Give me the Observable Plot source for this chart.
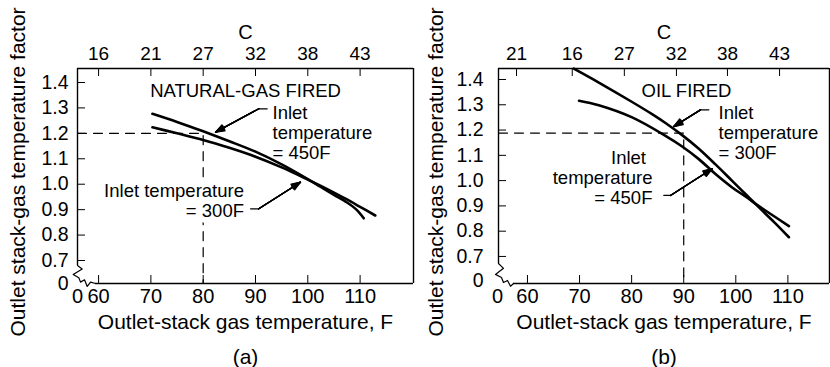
<!DOCTYPE html>
<html><head><meta charset="utf-8">
<script src="https://cdn.jsdelivr.net/npm/d3@7"></script>
<script src="https://cdn.jsdelivr.net/npm/@observablehq/plot@0.6"></script>
<style>
html,body{margin:0;padding:0;background:#fff;}
#wrap{display:flex;width:830px;height:367px;overflow:hidden;}
#wrap svg{display:block;}
</style></head><body><div id="wrap"></div>
<script>
// ---------- data ----------
const fTicks = [60, 70, 80, 90, 100, 110];
const yTicks = [0.7, 0.8, 0.9, 1.0, 1.1, 1.2, 1.3, 1.4];
const cLabelsA = ["16", "21", "27", "32", "38", "43"];
const cPosA = [60, 70, 80, 90, 100, 110];
const cLabelsB = ["21", "16", "27", "32", "38", "43"];
const cPosB = [57.9, 68.6, 78.6, 88.6, 98.4, 108.4];

// (a) natural-gas fired
const gasF450 = [70.3, 75, 80, 85, 90, 95, 100, 102.4, 105, 107.5, 109.3, 110.7];
const gas450  = [1.277, 1.245, 1.208, 1.169, 1.128, 1.078, 1.02, 0.99, 0.958, 0.928, 0.9, 0.866];
const gasF300 = [70.3, 75, 80, 85, 90, 95, 100, 102.4, 105, 107.5, 110, 112.9];
const gas300  = [1.224, 1.2, 1.174, 1.143, 1.108, 1.066, 1.018, 0.994, 0.967, 0.94, 0.911, 0.877];
const gasRef = {F: 80, factor: 1.2};

// (b) oil fired
const oilF300 = [68.9, 73.7, 80.1, 84, 86.5, 89.7, 92.9, 96.1, 99.3, 101.9, 104.5, 107.5, 110.2];
const oil300  = [1.443, 1.388, 1.311, 1.262, 1.228, 1.18, 1.126, 1.064, 0.999, 0.946, 0.893, 0.833, 0.776];
const oilF450 = [69.9, 73.7, 80.1, 86.5, 89.7, 92.9, 96.1, 99.3, 102, 104.5, 107.5, 110.2];
const oil450  = [1.316, 1.298, 1.25, 1.177, 1.135, 1.085, 1.026, 0.973, 0.935, 0.898, 0.857, 0.82];
const oilRef = {F: 90, factor: 1.188};

// axis-break zigzags (data units)
const breakAF = [55.97, 56.87, 55.15, 56.22, 56.55, 57.31, 57.83, 58.46, 59.42];
const breakAY = [0.680, 0.667, 0.645, 0.632, 0.615, 0.624, 0.598, 0.615, 0.6096];
const breakBF = [54.44, 55.40, 53.86, 55.01, 55.40, 56.17, 56.75, 57.32];
const breakBY = [0.672, 0.653, 0.629, 0.617, 0.597, 0.605, 0.582, 0.593];

const FONT = "'Liberation Sans', Arial, Helvetica, sans-serif";

function zip(xs, ys, extra = {}) { return xs.map((x, i) => ({F: x, v: ys[i], ...extra})); }

function arrowMarks(pts) {
  const [a, b, c] = pts;
  const marks = [Plot.line([a, b], {x: d => d[0], y: d => d[1], stroke: "black", strokeWidth: 1.3})];
  for (const ang of [8, 16, 24, 32, 40]) {
    marks.push(Plot.arrow([{x1: b[0], y1: b[1], x2: c[0], y2: c[1]}],
      {x1: "x1", y1: "y1", x2: "x2", y2: "y2", stroke: "black", strokeWidth: 1.3, headLength: 11, headAngle: ang}));
  }
  return marks;
}

function panel(cfg) {
  const [x0, x1] = cfg.xDomain, [y0, y1] = cfg.yDomain;
  const fw = cfg.width - cfg.ml - cfg.mr, fh = cfg.height - cfg.mt - cfg.mb;
  const brk = cfg.breakF.map((f, i) => [f, cfg.breakY[i]]);
  const noteOpts = {x: "x", y: "y", text: "t", lineAnchor: "middle", lineHeight: 1.08, fontSize: 18.5};
  const T = {fill: "black", lineAnchor: "middle"};
  return Plot.plot({
    width: cfg.width, height: cfg.height,
    marginLeft: cfg.ml, marginRight: cfg.mr, marginTop: cfg.mt, marginBottom: cfg.mb,
    x: {domain: cfg.xDomain, axis: null},
    y: {domain: cfg.yDomain, axis: null},
    style: {fontFamily: FONT, background: "white", color: "black", overflow: "visible"},
    marks: [
      // frame pieces
      Plot.ruleY([y1], {stroke: "black", strokeWidth: 1.4}),
      Plot.ruleX([x1], {stroke: "black", strokeWidth: 1.4}),
      Plot.ruleX([x0], {y1: brk[0][1], y2: y1, stroke: "black", strokeWidth: 1.4}),
      Plot.ruleY([y0], {x1: brk[brk.length - 1][0], x2: x1, stroke: "black", strokeWidth: 1.4}),
      Plot.line(brk, {x: d => d[0], y: d => d[1], stroke: "black", strokeWidth: 1.2}),
      // ticks (inward)
      Plot.tickX(fTicks, {insetTop: fh - 8, stroke: "black", strokeWidth: 1}),
      Plot.tickX(cfg.cPos, {insetBottom: fh - 8, stroke: "black", strokeWidth: 1}),
      Plot.tickY(yTicks, {insetRight: fw - 8, stroke: "black", strokeWidth: 1}),
      // tick labels
      Plot.text(fTicks, {x: d => d, frameAnchor: "bottom", dy: 13, textAnchor: "middle", text: d => String(d), fontSize: 20, ...T}),
      Plot.text(["0"], {frameAnchor: "bottom-left", dx: cfg.x0dx, dy: 13, textAnchor: "middle", fontSize: 20, ...T}),
      Plot.text(cfg.cPos, {x: d => d, frameAnchor: "top", dy: -15, textAnchor: "middle", text: (d, i) => cfg.cLabels[i], fontSize: 19, ...T}),
      Plot.text(yTicks, {y: d => d, frameAnchor: "left", dx: cfg.ydx, textAnchor: "end", text: d => d.toFixed(1), fontSize: 19.5, ...T}),
      Plot.text(["0"], {frameAnchor: "bottom-left", dx: cfg.ydx, dy: cfg.y0dy, textAnchor: "end", fontSize: 19.5, ...T}),
      // axis titles
      Plot.text(["C"], {frameAnchor: "top", dy: -36, textAnchor: "middle", fontSize: 20, ...T}),
      Plot.text(["Outlet-stack gas temperature, F"], {frameAnchor: "bottom", dy: 39, textAnchor: "middle", fontSize: 21, ...T}),
      Plot.text([cfg.caption], {frameAnchor: "bottom", dy: 74, textAnchor: "middle", fontSize: 21, ...T}),
      Plot.text(["Outlet stack-gas temperature factor"], {frameAnchor: "left", dx: cfg.ytdx, dy: -4, rotate: -90, textAnchor: "middle", fontSize: 21, ...T}),
      // dashed reference lines
      Plot.line([[x0, cfg.ref.factor], [cfg.ref.F, cfg.ref.factor], [cfg.ref.F, y0]],
        {x: d => d[0], y: d => d[1], stroke: "black", strokeWidth: 1.2, strokeDasharray: "9,7"}),
      // annotation halos (hide dashes behind the texts), then the texts
      ...cfg.notes.map(n => Plot.text([n], {...noteOpts, textAnchor: n.a, fill: "white", stroke: "white", strokeWidth: 12, strokeLinejoin: "round"})),
      ...cfg.notes.map(n => Plot.text([n], {...noteOpts, textAnchor: n.a, fill: "black"})),
      // curves
      Plot.line(cfg.rows, {x: "F", y: "v", z: "s", curve: "catmull-rom", stroke: "black", strokeWidth: 2.6}),
      ...cfg.arrows.flatMap(arrowMarks)
    ]
  });
}

const wrap = document.getElementById("wrap");

wrap.append(panel({
  width: 415, height: 367, ml: 77, mr: 2, mt: 68, mb: 84,
  xDomain: [55.97, 120.21], yDomain: [0.6096, 1.455],
  cPos: cPosA, cLabels: cLabelsA, caption: "(a)",
  breakF: breakAF, breakY: breakAY,
  x0dx: 0, ydx: -9, y0dy: 0, ytdx: -59,
  ref: gasRef,
  rows: [...zip(gasF450, gas450, {s: "450F"}), ...zip(gasF300, gas300, {s: "300F"})],
  notes: [
    {x: 88.1, y: 1.369, t: "NATURAL-GAS FIRED", a: "middle"},
    {x: 93.25, y: 1.203, t: "Inlet\ntemperature\n= 450F", a: "start"},
    {x: 87.8, y: 0.936, t: "Inlet temperature\n= 300F", a: "end"}
  ],
  arrows: [
    [[92.24, 1.2966], [90.63, 1.2966], [82.36, 1.2046]],
    [[89.06, 0.9033], [90.63, 0.9033], [98.6, 1.008]]
  ]
}));

wrap.append(panel({
  width: 415, height: 367, ml: 83, mr: 1, mt: 68, mb: 84,
  xDomain: [54.44, 117.99], yDomain: [0.593, 1.4435],
  cPos: cPosB, cLabels: cLabelsB, caption: "(b)",
  breakF: breakBF, breakY: breakBY,
  x0dx: -1, ydx: -15, y0dy: -3, ytdx: -62,
  ref: oilRef,
  rows: [...zip(oilF300, oil300, {s: "300F"}), ...zip(oilF450, oil450, {s: "450F"})],
  notes: [
    {x: 90.53, y: 1.3565, t: "OIL FIRED", a: "middle"},
    {x: 96.68, y: 1.19, t: "Inlet\ntemperature\n= 300F", a: "start"},
    {x: 79.4, y: 1.093, t: "Inlet", a: "middle"},
    {x: 84.0, y: 0.974, t: "temperature\n= 450F", a: "end"}
  ],
  arrows: [
    [[94.82, 1.280], [93.22, 1.280], [88.1, 1.214]],
    [[86.18, 0.9413], [87.46, 0.9413], [95.47, 1.0469]]
  ]
}));
</script>
</body></html>
